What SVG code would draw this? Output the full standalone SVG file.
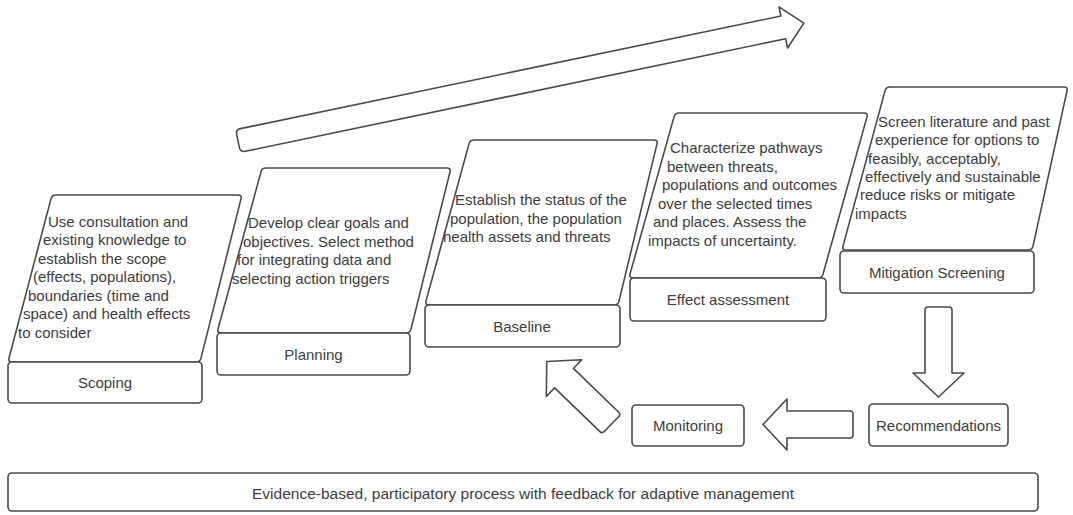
<svg xmlns="http://www.w3.org/2000/svg" width="1073" height="515" viewBox="0 0 1073 515">
  <style>
    .shape { fill: #ffffff; stroke: #4a4a4a; stroke-width: 1.6; stroke-linejoin: round; }
    .txt { font-family: "Liberation Sans", Arial, sans-serif; font-size: 15px; fill: #3d3d3d; }
    .mid { text-anchor: middle; dominant-baseline: central; }
    .footer { font-size: 15.5px; }
  </style>
  <defs>
    <!-- block arrow pointing along +x, tail at origin -->
    <path id="blockArrow" d="M3,-13.5 L66,-13.5 L66,-25.5 L90,0 L66,25.5 L66,13.5 L3,13.5 Q0,13.5 0,10.5 L0,-10.5 Q0,-13.5 3,-13.5 Z"/>
  </defs>

  <rect width="1073" height="515" fill="#ffffff"/>

  <!-- connectors -->
  <g id="connectors">
    <path class="shape" transform="translate(238,141) rotate(-11.77)"
          d="M5,-11.6 L557,-11.6 L557,-21 L578,0 L557,21 L557,11.6 L5,11.6 Q0,11.6 0,6.6 L0,-6.6 Q0,-11.6 5,-11.6 Z"/>
    <use href="#blockArrow" class="shape" transform="translate(938.5,307) rotate(90)"/>
    <use href="#blockArrow" class="shape" transform="translate(853,424.5) rotate(180)"/>
    <use href="#blockArrow" class="shape" transform="translate(611.5,424) rotate(-136)"/>
  </g>

  <!-- Scoping -->
  <g id="scoping">
    <path class="shape" d="M56,195 L238,195 Q242,195 241,198.9 L201,358.1 Q200,362 196,362 L12,362 Q8,362 9,358.1 L51,198.9 Q52,195 56,195 Z"/>
    <rect class="shape" x="8" y="362" width="194" height="41" rx="4"/>
    <text class="txt">
      <tspan x="48" y="226.5">Use consultation and</tspan>
      <tspan x="43" y="245">existing knowledge to</tspan>
      <tspan x="38" y="263.5">establish the scope</tspan>
      <tspan x="33" y="282">(effects, populations),</tspan>
      <tspan x="28" y="300.5">boundaries (time and</tspan>
      <tspan x="23" y="319">space) and health effects</tspan>
      <tspan x="18" y="337.5">to consider</tspan>
    </text>
    <text class="txt mid" x="105" y="382.5">Scoping</text>
  </g>

  <!-- Planning -->
  <g id="planning">
    <path class="shape" d="M266,168 L447,168 Q451,168 450,171.9 L411,329.1 Q410,333 406,333 L221,333 Q217,333 218,329.1 L261,171.9 Q262,168 266,168 Z"/>
    <rect class="shape" x="217" y="333" width="193" height="42" rx="4"/>
    <text class="txt">
      <tspan x="248" y="228.3">Develop clear goals and</tspan>
      <tspan x="243" y="246.8">objectives. Select method</tspan>
      <tspan x="237" y="265.3">for integrating data and</tspan>
      <tspan x="232" y="283.8">selecting action triggers</tspan>
    </text>
    <text class="txt mid" x="313.5" y="354">Planning</text>
  </g>

  <!-- Baseline -->
  <g id="baseline">
    <path class="shape" d="M474,140 L654,140 Q658,140 657,143.9 L619,301.1 Q618,305 614,305 L429,305 Q425,305 426,301.1 L469,143.9 Q470,140 474,140 Z"/>
    <rect class="shape" x="425" y="305" width="195" height="42" rx="4"/>
    <text class="txt">
      <tspan x="455" y="205">Establish the status of the</tspan>
      <tspan x="450" y="223.5">population, the population</tspan>
      <tspan x="443" y="242">health assets and threats</tspan>
    </text>
    <text class="txt mid" x="522" y="326.5">Baseline</text>
  </g>

  <!-- Effect assessment -->
  <g id="effect-assessment">
    <path class="shape" d="M679,113 L864,113 Q868,113 867,116.9 L823,274.1 Q822,278 818,278 L633,278 Q629,278 630,274.1 L674,116.9 Q675,113 679,113 Z"/>
    <rect class="shape" x="630" y="278" width="196" height="43" rx="4"/>
    <text class="txt">
      <tspan x="670" y="153.3">Characterize pathways</tspan>
      <tspan x="667" y="171.8">between threats,</tspan>
      <tspan x="662" y="190.3">populations and outcomes</tspan>
      <tspan x="658" y="208.8">over the selected times</tspan>
      <tspan x="653" y="227.3">and places. Assess the</tspan>
      <tspan x="648" y="245.8">impacts of uncertainty.</tspan>
    </text>
    <text class="txt mid" x="728" y="299.5">Effect assessment</text>
  </g>

  <!-- Mitigation Screening -->
  <g id="mitigation-screening">
    <path class="shape" d="M890,87 L1064,87 Q1068,87 1067,90.9 L1033,246.1 Q1032,250 1028,250 L846,250 Q842,250 843,246.1 L885,90.9 Q886,87 890,87 Z"/>
    <rect class="shape" x="840" y="251" width="194" height="42" rx="4"/>
    <text class="txt">
      <tspan x="878" y="126.7">Screen literature and past</tspan>
      <tspan x="875" y="145.1">experience for options to</tspan>
      <tspan x="868" y="163.5">feasibly, acceptably,</tspan>
      <tspan x="865" y="181.9">effectively and sustainable</tspan>
      <tspan x="860" y="200.3">reduce risks or mitigate</tspan>
      <tspan x="855" y="218.7">impacts</tspan>
    </text>
    <text class="txt mid" x="937" y="272">Mitigation Screening</text>
  </g>

  <!-- Recommendations -->
  <g id="recommendations">
    <rect class="shape" x="869" y="404" width="139" height="42" rx="4"/>
    <text class="txt mid" x="938.5" y="425">Recommendations</text>
  </g>

  <!-- Monitoring -->
  <g id="monitoring">
    <rect class="shape" x="632" y="405" width="112" height="41" rx="4"/>
    <text class="txt mid" x="688" y="425.5">Monitoring</text>
  </g>

  <!-- Adaptive management footer -->
  <g id="adaptive-management">
    <rect class="shape" x="8" y="473" width="1030" height="38" rx="4"/>
    <text class="txt mid footer" x="523" y="493">Evidence-based, participatory process with feedback for adaptive management</text>
  </g>
</svg>
